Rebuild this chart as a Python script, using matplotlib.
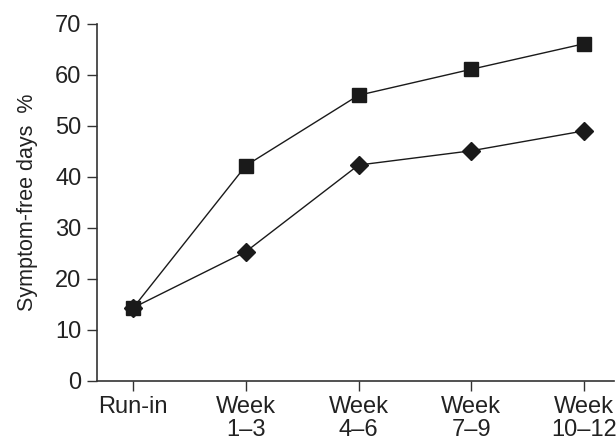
import matplotlib
matplotlib.use("Agg")
import matplotlib.pyplot as plt

plt.rcParams['font.family'] = ['Liberation Sans', 'DejaVu Sans']

periods = ["Run-in", "Week\n1\u20133", "Week\n4\u20136", "Week\n7\u20139", "Week\n10\u201312"]
square_series = [14.3, 42.2, 56.0, 61.1, 66.1]
diamond_series = [14.3, 25.3, 42.3, 45.1, 49.0]

fig = plt.figure(figsize=(6.16, 4.44), dpi=100)
ax = fig.add_axes([0.157, 0.143, 0.84, 0.803])

x = list(range(len(periods)))
ax.plot(x, square_series, color="#1a1a1a", lw=1.0, marker="s", ms=9.5,
        mec="#1a1a1a", mfc="#1a1a1a", zorder=3)
ax.plot(x, diamond_series, color="#1a1a1a", lw=1.0, marker="D", ms=9,
        mec="#1a1a1a", mfc="#1a1a1a", zorder=4)

ax.set_xlim(-0.325, 4.27)
ax.set_ylim(0, 70)
ax.set_yticks(range(0, 71, 10))
ax.set_xticks(x)
ax.set_xticklabels(periods, linespacing=1.05)

for s in ["top", "right"]:
    ax.spines[s].set_visible(False)
for s in ["left", "bottom"]:
    ax.spines[s].set_color("#333333")
    ax.spines[s].set_linewidth(1.2)

ax.tick_params(axis="both", direction="out", length=7, width=1.0, color="#333333",
               labelsize=17, labelcolor="#222222", pad=4)
ax.set_ylabel("Symptom-free days  %", fontsize=15.5, color="#222222", labelpad=12)

fig.savefig("out.png", dpi=100)
